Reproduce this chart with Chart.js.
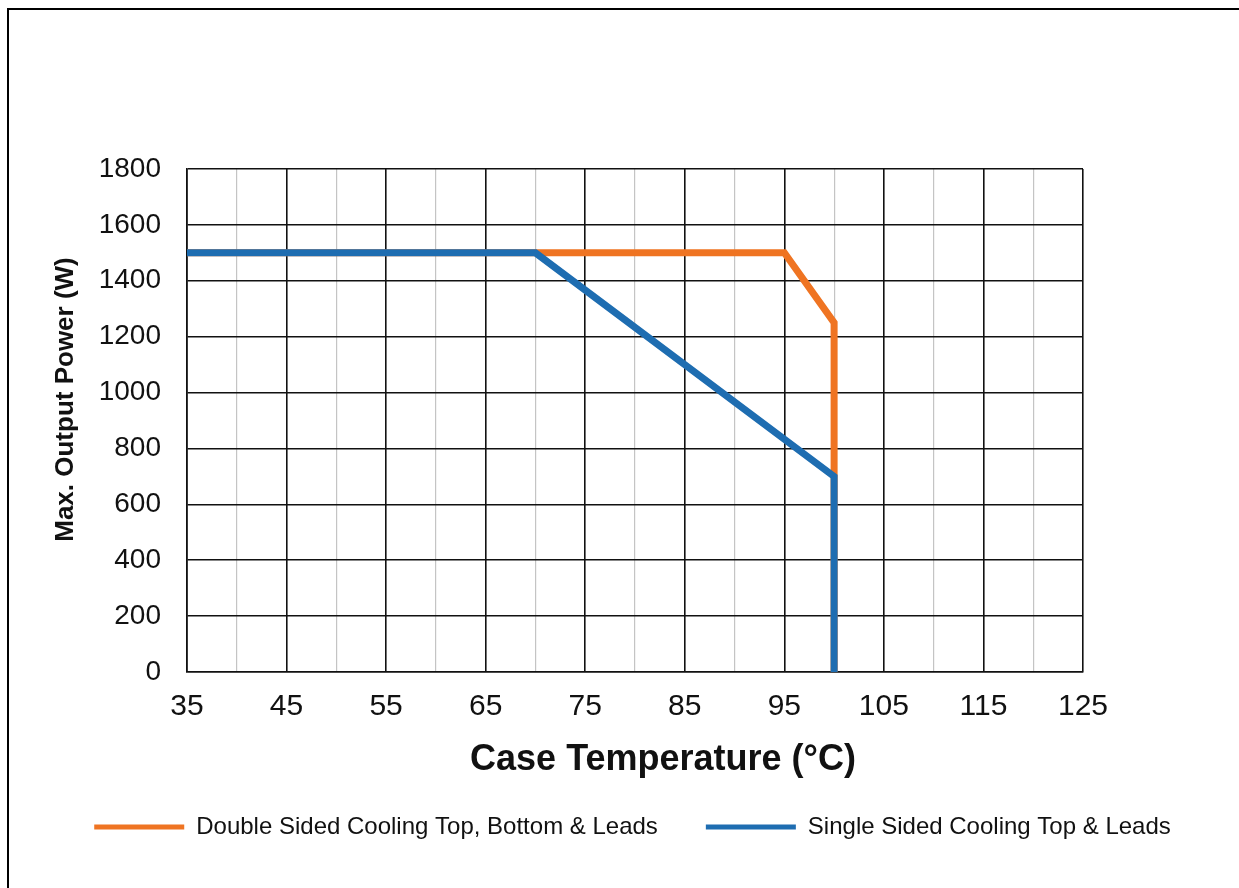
<!DOCTYPE html>
<html>
<head>
<meta charset="utf-8">
<script src="https://cdn.jsdelivr.net/npm/chart.js@4"></script>
<style>
  html, body { margin: 0; padding: 0; background: #fff; }
  #wrap { position: relative; width: 1239px; height: 888px; overflow: hidden; }
  #frame { position: absolute; left: 7px; top: 8px; right: -5px; bottom: -5px; border-top: 2px solid #000; border-left: 2px solid #000; }
  canvas { position: absolute; left: 0; top: 0; }
</style>
</head>
<body>
<div id="wrap">
  <div id="frame"></div>
  <canvas id="c" width="1239" height="888"></canvas>
</div>
<script>
// Data
const doubleTemps = [35, 95, 100, 100];
const doublePower = [1500, 1500, 1250, 0];
const singleTemps = [35, 70, 100, 100];
const singlePower = [1500, 1500, 700, 0];
const doubleLabel = 'Double Sided Cooling Top, Bottom & Leads';
const singleLabel = 'Single Sided Cooling Top & Leads';
const xTitle = 'Case Temperature (°C)';
const yTitle = 'Max. Output Power (W)';
const xMin = 35, xMax = 125, xStep = 5;
const yMin = 0, yMax = 1800, yStep = 200;

const toPts = (xs, ys) => xs.map((x, i) => ({x: x, y: ys[i]}));
const FONT = 'Arial, "Liberation Sans", sans-serif';

// axis titles, offset from centre as in the reference
const axisTitlePlugin = {
  id: 'axisTitlePlugin',
  afterDraw(chart) {
    const ctx = chart.ctx, a = chart.chartArea;
    ctx.save();
    ctx.fillStyle = '#111';
    ctx.textAlign = 'center';
    ctx.textBaseline = 'middle';
    ctx.font = 'bold 36px ' + FONT;
    ctx.fillText(xTitle, (a.left + a.right) / 2 + 28, a.bottom + 88);
    ctx.translate(66, (a.top + a.bottom) / 2 - 21);
    ctx.rotate(-Math.PI / 2);
    ctx.font = 'bold 26px ' + FONT;
    ctx.fillText(yTitle, 0, 0);
    ctx.restore();
  }
};

new Chart(document.getElementById('c'), {
  type: 'scatter',
  data: {
    datasets: [
      { label: singleLabel, data: toPts(singleTemps, singlePower), showLine: true,
        borderColor: '#1E6DB1', backgroundColor: '#1E6DB1', borderWidth: 7, pointRadius: 0, pointHoverRadius: 0, tension: 0 },
      { label: doubleLabel, data: toPts(doubleTemps, doublePower), showLine: true,
        borderColor: '#EF7422', backgroundColor: '#EF7422', borderWidth: 7, pointRadius: 0, pointHoverRadius: 0, tension: 0 }
    ]
  },
  plugins: [axisTitlePlugin],
  options: {
    responsive: false,
    animation: false,
    events: [],
    layout: { padding: { left: 26, right: 0, top: 169, bottom: 39 } },
    scales: {
      x: {
        type: 'linear', position: 'bottom', min: xMin, max: xMax,
        afterFit: (s) => { s.height = 95; },
        ticks: { stepSize: xStep, padding: 17, color: '#111', font: { family: FONT, size: 30 },
          callback: (v) => ((v - xMin) % 10 === 0 ? String(v) : ''), maxRotation: 0, autoSkip: false },
        grid: { drawTicks: false,
          color: (ctx) => ((ctx.tick && (ctx.tick.value - xMin) % 10 === 0) ? '#111' : '#c4c4c4'),
          lineWidth: (ctx) => ((ctx.tick && (ctx.tick.value - xMin) % 10 === 0) ? 1.6 : 1.2) },
        border: { display: true, color: '#111', width: 1.6 },
        title: { display: false, text: xTitle }
      },
      y: {
        type: 'linear', position: 'left', min: yMin, max: yMax,
        afterFit: (s) => { s.width = 161; },
        ticks: { stepSize: yStep, padding: 26, color: '#111', font: { family: FONT, size: 28 },
          callback: (v) => String(v) },
        grid: { drawTicks: false, color: '#111', lineWidth: 1.6 },
        border: { display: true, color: '#111', width: 1.6 },
        title: { display: false, text: yTitle }
      },
      yR: {
        type: 'linear', position: 'right', min: yMin, max: yMax, display: true,
        afterFit: (s) => { s.width = 156; },
        ticks: { display: false }, grid: { display: false, drawOnChartArea: false }, border: { display: false }
      }
    },
    plugins: {
      tooltip: { enabled: false },
      legend: {
        display: true, position: 'bottom', align: 'center',
        labels: {
          usePointStyle: true, pointStyle: 'line', pointStyleWidth: 90, padding: 48,
          color: '#111', font: { family: FONT, size: 24 },
          sort: (a, b) => b.datasetIndex - a.datasetIndex,
          generateLabels: (chart) => Chart.defaults.plugins.legend.labels.generateLabels(chart).map(l => Object.assign(l, { lineWidth: 5, pointStyle: 'line' }))
        }
      }
    }
  }
});
</script>
</body>
</html>
